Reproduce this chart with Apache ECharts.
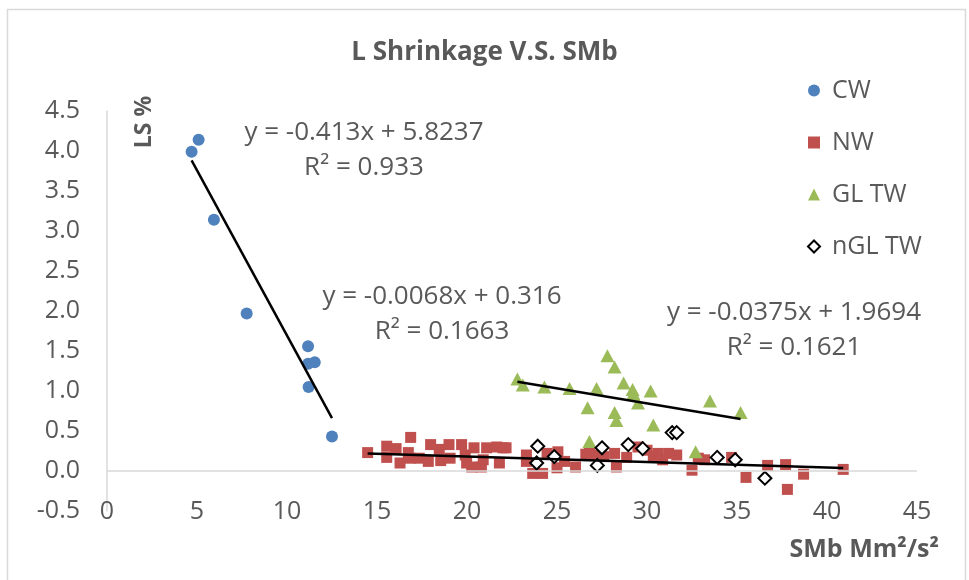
<!DOCTYPE html>
<html>
<head>
<meta charset="utf-8">
<script src="https://cdn.jsdelivr.net/npm/echarts@6/dist/echarts.min.js"></script>
<style>
  html, body { margin: 0; padding: 0; background: #fff; }
  #chart { width: 969px; height: 580px; }
</style>
</head>
<body>
<div id="chart"></div>
<script>
  // values
  const seriesNames = ['CW', 'NW', 'GL TW', 'nGL TW']
  const cwData = [
    [5.09, 4.14], [4.70, 3.99], [5.94, 3.14], [7.76, 1.97], [11.17, 1.56],
    [11.17, 1.34], [11.54, 1.36], [11.2, 1.05], [12.5, 0.43]
  ]
  const nwData = [
    [14.48, 0.23], [15.54, 0.31], [15.54, 0.17], [16.06, 0.28], [16.28, 0.10],
    [16.87, 0.42], [16.74, 0.23], [16.83, 0.16], [17.35, 0.16], [17.85, 0.12],
    [17.98, 0.33], [18.46, 0.27], [18.54, 0.13], [19.0, 0.33], [19.06, 0.16],
    [19.7, 0.33], [19.9, 0.20], [19.98, 0.10], [20.39, 0.29], [20.26, 0.05],
    [20.8, 0.05], [20.9, 0.14], [21.09, 0.29], [21.65, 0.30], [21.8, 0.10],
    [22.0, 0.29], [22.17, 0.29], [23.3, 0.20], [23.3, 0.12], [23.65, -0.03],
    [24.2, -0.03], [24.45, 0.22], [25.05, 0.24], [25.0, 0.04], [25.42, 0.12],
    [26.03, 0.05], [26.6, 0.21], [26.8, 0.22], [27.2, 0.20], [27.6, 0.18],
    [28.2, 0.22], [28.3, 0.05], [28.87, 0.17], [29.5, 0.30], [30.0, 0.26],
    [30.35, 0.18], [30.6, 0.22], [30.87, 0.14], [31.2, 0.22], [31.65, 0.20],
    [32.5, 0.01], [32.85, 0.16], [33.2, 0.14], [34.7, 0.17], [35.5, -0.08],
    [36.7, 0.07], [37.7, 0.08], [37.8, -0.23], [38.7, -0.04], [40.9, 0.02]
  ]
  const glData = [
    [22.8, 1.15], [23.1, 1.075], [24.3, 1.05], [25.7, 1.03], [27.8, 1.44],
    [28.2, 1.30], [27.2, 1.03], [26.7, 0.79], [28.7, 1.10], [29.2, 1.02],
    [29.24, 0.97], [29.5, 0.85], [30.2, 1.00], [28.2, 0.73], [28.3, 0.63],
    [30.35, 0.575], [26.8, 0.37], [32.7, 0.24], [33.5, 0.875], [35.2, 0.73]
  ]
  const nglData = [
    [23.93, 0.31], [23.87, 0.10], [24.85, 0.18], [27.5, 0.29], [27.24, 0.07],
    [28.96, 0.33], [29.76, 0.28], [31.4, 0.48], [31.65, 0.48], [33.9, 0.17],
    [34.9, 0.14], [36.55, -0.09]
  ]
  // linear trendlines (CW, NW, GL TW)
  const trendSlopes = [-0.413, -0.0068, -0.0375]
  const trendIntercepts = [5.8237, 0.316, 1.9694]
  const trendEquations = ['y = -0.413x + 5.8237', 'y = -0.0068x + 0.316', 'y = -0.0375x + 1.9694']
  const trendR2 = ['R² = 0.933', 'R² = 0.1663', 'R² = 0.1621']

  const textColor = '#595959'
  const font = 'Open Sans'

  function trendLine (data, k) {
    let xs = data.map(d => d[0])
    let x0 = Math.min(...xs)
    let x1 = Math.max(...xs)
    return [
      [x0, trendSlopes[k] * x0 + trendIntercepts[k]],
      [x1, trendSlopes[k] * x1 + trendIntercepts[k]]
    ]
  }

  let chart = echarts.init(document.getElementById('chart'))

  // where the equation boxes sit
  const eqPos = [[364, 133, 168], [442, 297, 332], [794, 313, 348]]
  let eqText = []
  for (let i = 0; i < 3; i++) {
    eqText.push({
      type: 'text', x: eqPos[i][0], y: eqPos[i][1],
      style: { text: trendEquations[i], fill: textColor, font: '26px "Open Sans"', textAlign: 'center', textVerticalAlign: 'middle' }
    })
    eqText.push({
      type: 'text', x: eqPos[i][0], y: eqPos[i][2],
      style: { text: trendR2[i], fill: textColor, font: '26px "Open Sans"', textAlign: 'center', textVerticalAlign: 'middle' }
    })
  }

  let option = {
    animation: false,
    backgroundColor: '#fff',
    title: {
      text: 'L Shrinkage V.S. SMb',
      left: 'center',
      top: 35,
      textStyle: { color: textColor, fontFamily: font, fontSize: 26, fontWeight: 'bold' }
    },
    legend: {
      orient: 'vertical',
      left: 802,
      top: 73,
      itemWidth: 12,
      itemHeight: 12,
      itemGap: 27,
      data: seriesNames,
      textStyle: { color: textColor, fontFamily: font, fontSize: 25, padding: [0, 0, 0, 7] }
    },
    grid: { left: 107, right: 52, top: 111, bottom: 69, containLabel: false },
    xAxis: {
      type: 'value',
      min: 0,
      max: 45,
      interval: 5,
      axisLine: { show: false, onZero: false },
      axisTick: { show: false },
      splitLine: { show: false },
      axisLabel: { color: textColor, fontFamily: font, fontSize: 25, margin: -12 }
    },
    yAxis: {
      type: 'value',
      min: -0.5,
      max: 4.5,
      interval: 0.5,
      axisLine: { show: true, lineStyle: { color: '#d9d9d9', width: 1.5 } },
      axisTick: { show: false },
      splitLine: { show: false },
      axisLabel: { color: textColor, fontFamily: font, fontSize: 25, margin: 27, formatter: v => v.toFixed(1) }
    },
    graphic: [
      {
        type: 'rect', silent: true,
        shape: { x: 7.5, y: 9.5, width: 958, height: 580 },
        style: { fill: 'none', stroke: '#d9d9d9', lineWidth: 1.5 }
      },
      {
        type: 'text', x: 939, y: 550,
        style: { text: 'SMb Mm²/s²', fill: textColor, font: 'bold 25px "Open Sans"', textAlign: 'right', textVerticalAlign: 'middle' }
      },
      {
        type: 'text', x: 144, y: 122, rotation: Math.PI / 2,
        style: { text: 'LS %', fill: textColor, font: 'bold 23px "Open Sans"', textAlign: 'center', textVerticalAlign: 'middle' }
      }
    ].concat(eqText),
    series: [
      {
        name: 'CW', type: 'scatter', data: cwData, symbol: 'circle', symbolSize: 12,
        itemStyle: { color: '#4F81BD', opacity: 1 },
        markLine: {
          silent: true, symbol: 'none', label: { show: false },
          lineStyle: { color: '#d9d9d9', type: 'solid', width: 1.5 },
          data: [{ yAxis: 0 }]
        },
        z: 3
      },
      {
        name: 'NW', type: 'scatter', data: nwData, symbol: 'rect', symbolSize: 11,
        itemStyle: { color: '#C0504D', opacity: 1 }, z: 3
      },
      {
        name: 'GL TW', type: 'scatter', data: glData, symbol: 'triangle', symbolSize: [14, 13],
        itemStyle: { color: '#9BBB59', opacity: 1 }, z: 3
      },
      {
        name: 'nGL TW', type: 'scatter', data: nglData, symbol: 'diamond', symbolSize: 13,
        itemStyle: { color: '#fff', borderColor: '#000', borderWidth: 2, opacity: 1 }, z: 4
      },
      {
        name: 'CW trend', type: 'line', data: trendLine(cwData, 0), showSymbol: false, silent: true,
        lineStyle: { color: '#000', width: 2.5 }, z: 5
      },
      {
        name: 'NW trend', type: 'line', data: trendLine(nwData, 1), showSymbol: false, silent: true,
        lineStyle: { color: '#000', width: 2.5 }, z: 5
      },
      {
        name: 'GL TW trend', type: 'line', data: trendLine(glData, 2), showSymbol: false, silent: true,
        lineStyle: { color: '#000', width: 2.5 }, z: 5
      }
    ]
  }
  chart.setOption(option)
</script>
</body>
</html>
